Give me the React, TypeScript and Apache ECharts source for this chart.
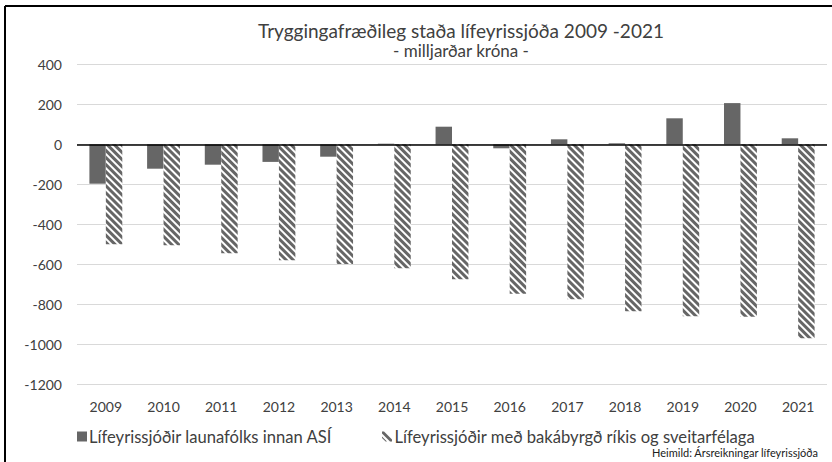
import React, { useEffect, useRef } from "react";
import * as echarts from "echarts";

const years = ["2009", "2010", "2011", "2012", "2013", "2014", "2015", "2016", "2017", "2018", "2019", "2020", "2021"];
const asiFunds = [-197, -122, -102, -88, -62, 3, 88, -20, 25, 5, 130, 206, 30];
const publicFunds = [-500, -505, -545, -580, -598, -620, -675, -747, -775, -835, -860, -862, -970];
const seriesNames = ["Lífeyrissjóðir launafólks innan ASÍ", "Lífeyrissjóðir með bakábyrgð ríkis og sveitarfélaga"];
const titleText = "Tryggingafræðileg staða lífeyrissjóða 2009 -2021";
const subtitleText = "- milljarðar króna -";
const sourceText = "Heimild: Ársreikningar lífeyrissjóða";

const FONT = "Lato, 'Liberation Sans', sans-serif";
const DARK = "#666666";

export default function App() {
  const ref = useRef<HTMLDivElement>(null);
  useEffect(() => {
    if (!ref.current) return;
    const chart = echarts.init(ref.current, undefined, { renderer: "svg" });
    const hatch = {
      symbol: "rect",
      symbolSize: 1,
      color: DARK,
      backgroundColor: "#ffffff",
      dashArrayX: [1, 0],
      dashArrayY: [2.5, 2],
      rotation: Math.PI / 4,
    };
    chart.setOption({
      animation: false,
      backgroundColor: "#ffffff",
      textStyle: { fontFamily: FONT },
      grid: { left: 77, right: 5, top: 64.3, bottom: 77.7, containLabel: false },
      legend: [
        {
          data: [{ name: seriesNames[0], icon: "rect" }],
          left: 72,
          top: 423,
          itemWidth: 10,
          itemHeight: 10,
          itemGap: 3,
          textStyle: { fontSize: 16.6, color: "#404040", fontFamily: FONT, padding: [0, 0, 0, -3] },
          selectedMode: false,
        },
        {
          data: [
            {
              name: seriesNames[1],
              icon: "path://M0,0L2,0L10,8L10,10L8,10L0,2Z M0,5L5,10L3.6,10L0,6.4Z",
              itemStyle: { color: DARK, decal: "none", borderWidth: 0 },
            },
          ],
          left: 377,
          top: 423,
          itemWidth: 11,
          itemHeight: 10,
          textStyle: { fontSize: 16.6, color: "#404040", fontFamily: FONT, padding: [0, 0, 0, -3] },
          selectedMode: false,
        },
      ],
      xAxis: {
        type: "category",
        data: years,
        axisLine: { show: false, onZero: false },
        axisTick: { show: false },
        axisLabel: { fontSize: 14, color: "#404040", margin: 15, fontFamily: FONT },
        splitLine: { show: false },
      },
      yAxis: {
        type: "value",
        min: -1200,
        max: 400,
        interval: 200,
        axisLine: { show: false },
        axisTick: { show: false },
        axisLabel: {
          fontSize: 14,
          color: "#404040",
          margin: 15,
          fontFamily: FONT,
          formatter: (v: number) => String(v),
        },
        splitLine: { lineStyle: { color: "#d9d9d9", width: 1 } },
      },
      series: [
        {
          name: seriesNames[0],
          type: "bar",
          data: asiFunds,
          barGap: "0%",
          barCategoryGap: "43%",
          itemStyle: { color: DARK },
          markLine: {
            silent: true,
            symbol: "none",
            label: { show: false },
            lineStyle: { color: "#000000", width: 1.5, type: "solid" },
            data: [{ yAxis: 0 }],
          },
        },
        {
          name: seriesNames[1],
          type: "bar",
          data: publicFunds,
          barGap: "0%",
          barCategoryGap: "43%",
          itemStyle: { color: "#ffffff", decal: hatch },
        },
      ],
      graphic: [
        { type: "line", shape: { x1: 5, y1: 6, x2: 832, y2: 6 }, style: { stroke: "#000", lineWidth: 2 }, silent: true },
        { type: "line", shape: { x1: 5, y1: 6, x2: 5, y2: 462 }, style: { stroke: "#000", lineWidth: 2 }, silent: true },
        {
          type: "text",
          x: 461,
          y: 30,
          style: { text: titleText, textAlign: "center", textVerticalAlign: "middle", font: `19px ${FONT}`, fill: "#404040" },
        },
        {
          type: "text",
          x: 461,
          y: 50,
          style: { text: subtitleText, textAlign: "center", textVerticalAlign: "middle", font: `17px ${FONT}`, fill: "#404040" },
        },
        {
          type: "text",
          x: 818,
          y: 452,
          style: { text: sourceText, textAlign: "right", textVerticalAlign: "middle", font: `11px ${FONT}`, fill: "#202020" },
        },
      ],
    });
    return () => chart.dispose();
  }, []);
  return (
    <div
      ref={ref}
      style={{ position: "fixed", left: 0, top: 0, width: 832, height: 462, background: "#fff" }}
    />
  );
}
